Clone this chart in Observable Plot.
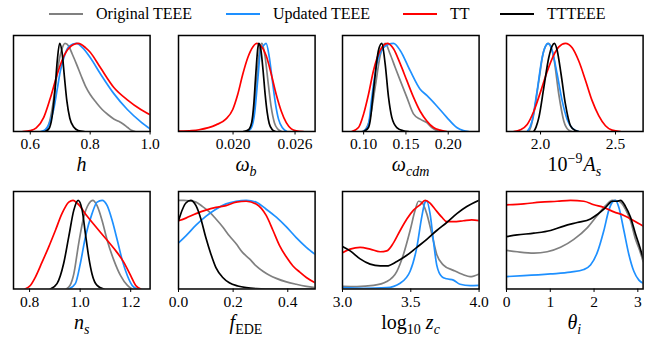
<!DOCTYPE html>
<html>
<head>
<meta charset="utf-8">
<script src="https://cdn.jsdelivr.net/npm/d3@7"></script>
<script src="https://cdn.jsdelivr.net/npm/@observablehq/plot@0.6"></script>
<style>
  body { margin: 0; background: #fff; }
  #chart { position: relative; width: 651px; height: 338px; font-family: "Liberation Serif", "DejaVu Serif", serif; color: #000; }
  #chart svg { position: absolute; overflow: visible; }
  #chart svg text { font-family: "Liberation Serif", "DejaVu Serif", serif; }
  .title { position: absolute; width: 170px; text-align: center; font-size: 20px; line-height: 20px; white-space: nowrap; }
  .title sub, .title sup { font-size: 14px; line-height: 0; }
  .title sup { margin-right: 1px; }
  .legend-item { position: absolute; top: 5px; height: 18px; display: flex; align-items: center; font-size: 16px; white-space: nowrap; }
  .swatch { width: 34px; height: 2px; margin-right: 13px; }
</style>
</head>
<body>
<div id="chart"></div>
<script>
// Series shown in every panel (draw order: last one on top)
const seriesNames = ["Original TEEE", "Updated TEEE", "TT", "TTTEEE"];
const seriesColors = ["#808080", "#1e90ff", "#ff0000", "#000000"];

// Normalised 1D posteriors, [parameter value, density / max]
// h
const h_orig = [[0.645,0],[0.655,0.03],[0.665,0.12],[0.675,0.3],[0.685,0.55],[0.695,0.78],[0.705,0.93],[0.716,1.0],[0.728,0.97],[0.740,0.88],[0.755,0.76],[0.770,0.63],[0.785,0.51],[0.800,0.42],[0.820,0.33],[0.840,0.25],[0.860,0.19],[0.880,0.14],[0.895,0.115],[0.910,0.085],[0.925,0.045],[0.940,0.01],[0.950,0]];
const h_upd = [[0.635,0],[0.650,0.02],[0.665,0.1],[0.678,0.25],[0.690,0.48],[0.700,0.68],[0.715,0.87],[0.730,0.97],[0.754,1.0],[0.775,0.95],[0.800,0.84],[0.835,0.65],[0.879,0.43],[0.924,0.25],[0.969,0.11],[1.0,0.03]];
const h_tt = [[0.575,0],[0.600,0.01],[0.620,0.04],[0.645,0.16],[0.667,0.38],[0.690,0.65],[0.710,0.84],[0.730,0.95],[0.760,1.0],[0.785,0.95],[0.800,0.9],[0.835,0.72],[0.879,0.5],[0.924,0.36],[0.969,0.25],[1.0,0.19]];
const h_ttteee = [[0.650,0],[0.662,0.03],[0.672,0.15],[0.682,0.45],[0.690,0.8],[0.698,1.0],[0.706,0.9],[0.714,0.62],[0.722,0.35],[0.732,0.15],[0.745,0.05],[0.760,0.012],[0.780,0]];

// omega_b
const wb_orig = [[0.0213,0],[0.0217,0.05],[0.0220,0.2],[0.0223,0.6],[0.0226,0.95],[0.0228,1.0],[0.0231,0.85],[0.0234,0.55],[0.0237,0.27],[0.0240,0.1],[0.0243,0.03],[0.0247,0]];
const wb_upd = [[0.0214,0],[0.0218,0.05],[0.0221,0.22],[0.0224,0.6],[0.0227,0.95],[0.0229,0.97],[0.0232,1.0],[0.0235,0.85],[0.0238,0.58],[0.0241,0.32],[0.0244,0.14],[0.0248,0.04],[0.0252,0]];
const wb_tt = [[0.0148,0.003],[0.0160,0.01],[0.0167,0.02],[0.01835,0.075],[0.0193,0.14],[0.01997,0.25],[0.02045,0.42],[0.02094,0.65],[0.02143,0.84],[0.02191,0.96],[0.0223,1.0],[0.02272,0.97],[0.02321,0.86],[0.0237,0.65],[0.02418,0.42],[0.02467,0.23],[0.02515,0.1],[0.02564,0.03],[0.02612,0.008],[0.0268,0]];
const wb_ttteee = [[0.0210,0],[0.0215,0.02],[0.0218,0.1],[0.0220,0.3],[0.0222,0.65],[0.0224,0.95],[0.0225,1.0],[0.0227,0.92],[0.0229,0.7],[0.0231,0.43],[0.0233,0.22],[0.0235,0.09],[0.0238,0.02],[0.0241,0]];

// omega_cdm
const wc_orig = [[0.098,0],[0.1018,0.02],[0.1077,0.16],[0.1136,0.5],[0.1195,0.86],[0.1254,1.0],[0.1313,0.88],[0.1372,0.73],[0.1432,0.58],[0.151,0.39],[0.1589,0.2],[0.1668,0.14],[0.1747,0.1],[0.1806,0.045],[0.1865,0.01],[0.19,0]];
const wc_upd = [[0.100,0],[0.1057,0.08],[0.1097,0.39],[0.1156,0.77],[0.1234,0.95],[0.1294,0.99],[0.1353,1.0],[0.1432,0.92],[0.155,0.69],[0.1668,0.48],[0.1747,0.41],[0.1865,0.29],[0.1983,0.16],[0.2101,0.045],[0.218,0.01],[0.224,0]];
const wc_tt = [[0.086,0],[0.0939,0.045],[0.1,0.2],[0.1057,0.42],[0.1116,0.69],[0.1195,0.92],[0.128,1.0],[0.1353,0.94],[0.1432,0.77],[0.151,0.58],[0.1589,0.39],[0.1668,0.23],[0.1747,0.12],[0.1826,0.045],[0.1904,0.015],[0.1983,0]];
const wc_ttteee = [[0.100,0],[0.1057,0.045],[0.1077,0.12],[0.1116,0.46],[0.1175,0.92],[0.1215,1.0],[0.1254,0.77],[0.1294,0.39],[0.1333,0.16],[0.1392,0.045],[0.147,0.008],[0.153,0]];

// 10^-9 A_s
const as_orig = [[1.922,0],[1.935,0.05],[1.955,0.2],[1.989,0.58],[2.022,0.92],[2.055,1.0],[2.088,0.84],[2.122,0.42],[2.155,0.12],[2.188,0.015],[2.21,0]];
const as_upd = [[1.911,0],[1.944,0.12],[1.977,0.46],[2.011,0.84],[2.033,0.97],[2.048,1.0],[2.077,0.92],[2.111,0.65],[2.144,0.35],[2.177,0.14],[2.211,0.04],[2.255,0]];
const as_tt = [[1.822,0],[1.866,0.02],[1.911,0.08],[1.955,0.23],[2.0,0.45],[2.044,0.68],[2.089,0.87],[2.122,0.96],[2.166,1.0],[2.211,0.95],[2.255,0.8],[2.3,0.58],[2.344,0.35],[2.388,0.18],[2.433,0.065],[2.477,0.015],[2.533,0]];
const as_ttteee = [[1.955,0],[1.97,0.05],[1.989,0.16],[2.022,0.5],[2.055,0.84],[2.077,0.97],[2.093,1.0],[2.111,0.92],[2.137,0.65],[2.166,0.31],[2.2,0.065],[2.233,0.01],[2.255,0]];

// n_s
const ns_orig = [[0.945,0],[0.96,0.04],[0.975,0.17],[0.994,0.51],[1.014,0.81],[1.034,0.96],[1.05,1.0],[1.067,0.94],[1.087,0.77],[1.107,0.55],[1.134,0.32],[1.16,0.15],[1.187,0.04],[1.206,0]];
const ns_upd = [[0.955,0],[0.981,0.06],[1.001,0.29],[1.021,0.59],[1.047,0.85],[1.067,0.98],[1.087,1.0],[1.107,0.94],[1.127,0.77],[1.147,0.55],[1.167,0.32],[1.187,0.15],[1.206,0.04],[1.226,0]];
const ns_tt = [[0.782,0],[0.803,0.04],[0.823,0.135],[0.849,0.3],[0.875,0.47],[0.902,0.66],[0.928,0.85],[0.955,0.98],[0.972,1.0],[0.988,0.97],[1.028,0.82],[1.08,0.64],[1.133,0.46],[1.173,0.3],[1.2,0.15],[1.22,0.04],[1.24,0]];
const ns_ttteee = [[0.882,0],[0.9085,0.06],[0.935,0.29],[0.955,0.59],[0.975,0.89],[0.992,1.0],[1.008,0.89],[1.021,0.62],[1.034,0.36],[1.047,0.17],[1.067,0.04],[1.094,0]];

// f_EDE
const fe_orig = [[0,1.0],[0.02,1.0],[0.04,0.995],[0.064,0.98],[0.088,0.93],[0.113,0.87],[0.137,0.79],[0.162,0.7],[0.186,0.6],[0.211,0.51],[0.235,0.41],[0.26,0.34],[0.284,0.26],[0.309,0.2],[0.333,0.155],[0.358,0.12],[0.395,0.08],[0.431,0.053],[0.468,0.03],[0.5,0.015]];
const fe_upd = [[0,0.52],[0.027,0.6],[0.064,0.72],[0.1,0.82],[0.137,0.9],[0.174,0.96],[0.211,0.99],[0.248,1.0],[0.284,0.98],[0.321,0.9],[0.358,0.81],[0.395,0.7],[0.431,0.58],[0.468,0.47],[0.5,0.39]];
const fe_tt = [[0,0.77],[0.027,0.8],[0.064,0.85],[0.1,0.89],[0.137,0.92],[0.174,0.94],[0.211,0.98],[0.248,0.99],[0.284,0.96],[0.321,0.83],[0.346,0.66],[0.37,0.49],[0.395,0.36],[0.419,0.26],[0.444,0.19],[0.468,0.13],[0.5,0.07]];
const fe_ttteee = [[0,0.77],[0.0147,0.9],[0.027,0.97],[0.045,1.0],[0.064,0.94],[0.082,0.79],[0.1,0.58],[0.119,0.39],[0.137,0.24],[0.162,0.13],[0.186,0.07],[0.217,0.034],[0.248,0.015],[0.284,0.004],[0.32,0],[0.5,0]];

// log10 z_c
const zc_orig = [[3.0,0.03],[3.105,0.027],[3.227,0.04],[3.324,0.084],[3.398,0.2],[3.446,0.39],[3.495,0.66],[3.532,0.89],[3.556,0.99],[3.58,0.98],[3.617,0.85],[3.654,0.62],[3.69,0.39],[3.739,0.27],[3.812,0.21],[3.885,0.16],[3.934,0.14],[4.0,0.17]];
const zc_upd = [[3.0,0.015],[3.154,0.008],[3.324,0.015],[3.422,0.065],[3.495,0.2],[3.544,0.47],[3.58,0.81],[3.605,0.98],[3.617,0.99],[3.641,0.85],[3.666,0.54],[3.69,0.27],[3.727,0.14],[3.763,0.115],[3.812,0.1],[3.861,0.053],[3.934,0.038],[4.0,0.04]];
const zc_tt = [[3.0,0.41],[3.056,0.45],[3.129,0.47],[3.202,0.45],[3.276,0.42],[3.324,0.43],[3.373,0.52],[3.422,0.66],[3.471,0.79],[3.52,0.89],[3.568,0.95],[3.605,1.0],[3.641,0.97],[3.678,0.9],[3.727,0.81],[3.763,0.76],[3.812,0.76],[3.885,0.77],[3.946,0.78],[4.0,0.77]];
const zc_ttteee = [[3.0,0.48],[3.056,0.43],[3.129,0.34],[3.202,0.28],[3.276,0.26],[3.324,0.26],[3.398,0.31],[3.471,0.38],[3.544,0.47],[3.617,0.56],[3.69,0.66],[3.763,0.75],[3.837,0.85],[3.91,0.93],[4.0,1.0]];

// theta_i
const th_orig = [[0,0.435],[0.244,0.42],[0.625,0.405],[0.929,0.42],[1.234,0.47],[1.538,0.56],[1.843,0.69],[2.072,0.83],[2.262,0.94],[2.414,1.0],[2.567,0.99],[2.719,0.9],[2.833,0.77],[2.947,0.56],[3.046,0.43],[3.12,0.31]];
const th_upd = [[0,0.14],[0.396,0.15],[1.005,0.17],[1.462,0.19],[1.767,0.22],[1.919,0.27],[2.072,0.41],[2.224,0.66],[2.338,0.89],[2.437,0.99],[2.49,1.0],[2.567,0.92],[2.681,0.66],[2.795,0.39],[2.909,0.2],[3.024,0.1],[3.12,0.065]];
const th_tt = [[0,0.95],[0.396,0.96],[0.777,0.98],[1.158,0.99],[1.462,1.0],[1.767,0.99],[1.995,0.95],[2.224,0.92],[2.452,0.87],[2.681,0.83],[2.909,0.77],[3.12,0.71]];
const th_ttteee = [[0,0.59],[0.244,0.61],[0.625,0.63],[1.005,0.66],[1.31,0.71],[1.615,0.75],[1.919,0.79],[2.072,0.84],[2.224,0.9],[2.338,0.96],[2.414,0.99],[2.529,0.99],[2.605,1.0],[2.719,0.93],[2.833,0.81],[2.947,0.62],[3.046,0.47],[3.12,0.35]];

// Axis ranges and tick values
const hDomain = [0.544, 1.0],      hTicks = [0.6, 0.8, 1.0];
const wbDomain = [0.01472, 0.02794], wbTicks = [0.020, 0.026];
const wcDomain = [0.075, 0.2365],  wcTicks = [0.10, 0.15, 0.20];
const asDomain = [1.773, 2.684],   asTicks = [2.0, 2.5];
const nsDomain = [0.7364, 1.2767], nsTicks = [0.8, 1.0, 1.2];
const feDomain = [0, 0.5],         feTicks = [0.0, 0.2, 0.4];
const zcDomain = [3.0, 4.0],       zcTicks = [3.0, 3.5, 4.0];
const thDomain = [0, 3.12],        thTicks = [0, 1, 2, 3];

// Axis titles
const labels = [
  "<i>h</i>",
  "<i>ω<sub>b</sub></i>",
  "<i>ω<sub>cdm</sub></i>",
  "10<sup>−9</sup><i>A<sub>s</sub></i>",
  "<i>n<sub>s</sub></i>",
  "<i>f</i><sub>EDE</sub>",
  "log<sub>10</sub> <i>z<sub>c</sub></i>",
  "<i>θ<sub>i</sub></i>"
];

const panels = [
  {series: [h_orig, h_upd, h_tt, h_ttteee], domain: hDomain, ticks: hTicks, fmt: ".1f"},
  {series: [wb_orig, wb_upd, wb_tt, wb_ttteee], domain: wbDomain, ticks: wbTicks, fmt: ".3f"},
  {series: [wc_orig, wc_upd, wc_tt, wc_ttteee], domain: wcDomain, ticks: wcTicks, fmt: ".2f"},
  {series: [as_orig, as_upd, as_tt, as_ttteee], domain: asDomain, ticks: asTicks, fmt: ".1f"},
  {series: [ns_orig, ns_upd, ns_tt, ns_ttteee], domain: nsDomain, ticks: nsTicks, fmt: ".1f"},
  {series: [fe_orig, fe_upd, fe_tt, fe_ttteee], domain: feDomain, ticks: feTicks, fmt: ".1f"},
  {series: [zc_orig, zc_upd, zc_tt, zc_ttteee], domain: zcDomain, ticks: zcTicks, fmt: ".1f"},
  {series: [th_orig, th_upd, th_tt, th_ttteee], domain: thDomain, ticks: thTicks, fmt: "d"}
];

// Grid layout (frame boxes in page pixels)
const colLeft = [13.3, 177.7, 342.3, 506];
const frameW = 136.6;
const rows = [
  {top: 34.7, h: 96, ymax: 1.09, titleTop: 154},
  {top: 191, h: 97.5, ymax: 1.10, titleTop: 312}
];
const mL = 20, mR = 20, mT = 4, mB = 30;

const chart = document.getElementById("chart");

// Legend across the top
const legendLeft = [49, 226, 403, 500];
seriesNames.forEach((name, i) => {
  const item = document.createElement("div");
  item.className = "legend-item";
  item.style.left = legendLeft[i] + "px";
  item.innerHTML = `<span class="swatch" style="background:${seriesColors[i]}"></span><span>${name}</span>`;
  chart.appendChild(item);
});

panels.forEach((p, k) => {
  const row = rows[Math.floor(k / 4)];
  const left = colLeft[k % 4];
  const data = p.series.flatMap((pts, i) => pts.map(([x, y]) => ({x, y, s: seriesNames[i]})));
  const svg = Plot.plot({
    width: frameW + mL + mR,
    height: row.h + mT + mB,
    marginLeft: mL, marginRight: mR, marginTop: mT, marginBottom: mB,
    x: {domain: p.domain, ticks: p.ticks, tickFormat: d3.format(p.fmt), tickSize: 3.5, tickPadding: 3, label: null},
    y: {domain: [0, row.ymax], axis: null},
    color: {domain: seriesNames, range: seriesColors},
    style: {fontFamily: "'Liberation Serif', 'DejaVu Serif', serif", fontSize: "15.5px", background: "transparent", color: "#000"},
    marks: [
      Plot.line(data, {x: "x", y: "y", z: "s", stroke: "s", strokeWidth: 1.7, curve: "monotone-x", clip: true}),
      Plot.frame({stroke: "#000", strokeWidth: 1.5})
    ]
  });
  svg.style.left = (left - mL) + "px";
  svg.style.top = (row.top - mT) + "px";
  chart.appendChild(svg);

  const t = document.createElement("div");
  t.className = "title";
  t.style.left = (left + frameW / 2 - 85) + "px";
  t.style.top = row.titleTop + "px";
  t.innerHTML = labels[k];
  chart.appendChild(t);
});
</script>
</body>
</html>
